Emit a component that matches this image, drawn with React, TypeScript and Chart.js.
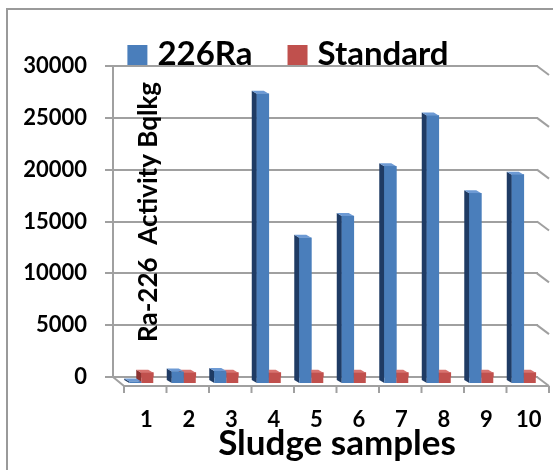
import React, { useEffect, useRef } from 'react';
import { Chart, registerables } from 'chart.js';

Chart.register(...registerables);

// ---- data ----
const samples = [1, 2, 3, 4, 5, 6, 7, 8, 9, 10];
const ra226 = [150, 1100, 1150, 27900, 14000, 16100, 20900, 25800, 18300, 20100];
const standard = [1000, 1000, 1000, 1000, 1000, 1000, 1000, 1000, 1000, 1000];
const yTicks = [0, 5000, 10000, 15000, 20000, 25000, 30000];
const seriesNames = ['226Ra', 'Standard'];
const xTitle = 'Sludge samples';
const yTitle = 'Ra-226  Activity Bqlkg';

// ---- styles ----
const FONT = 'Lato, "Open Sans", sans-serif';
const GRID = '#a0a0a0';
const BLUE = { front: '#4a7ebb', side: '#1f3b64', top: '#6d9ad4' };
const RED = { front: '#c0504d', side: '#8b3331', top: '#d8736f' };
const DX = 5;
const DY = 3;

const deco3d = {
  id: 'deco3d',
  beforeDraw(chart: any) {
    const ctx = chart.ctx;
    ctx.save();
    ctx.strokeStyle = '#9a9a9a';
    ctx.lineWidth = 2;
    ctx.beginPath();
    ctx.moveTo(7, 470);
    ctx.lineTo(7, 9);
    ctx.lineTo(553, 9);
    ctx.stroke();
    ctx.restore();
  },
  beforeDatasetsDraw(chart: any) {
    const { ctx, chartArea } = chart;
    const y = chart.scales.y;
    const { left, right, bottom } = chartArea;
    ctx.save();
    ctx.strokeStyle = GRID;
    ctx.lineWidth = 2;
    yTicks.forEach((v) => {
      const py = y.getPixelForValue(v);
      ctx.beginPath();
      ctx.moveTo(right - 1, py);
      ctx.lineTo(right + 11, py + 9);
      ctx.stroke();
    });
    ctx.beginPath();
    ctx.moveTo(left, bottom);
    ctx.lineTo(left + 11, bottom + 9);
    ctx.lineTo(right + 11, bottom + 9);
    ctx.stroke();
    const step = (right - left) / samples.length;
    for (let k = 0; k <= samples.length; k++) {
      const px = left + 11 + k * step;
      ctx.beginPath();
      ctx.moveTo(px, bottom + 9);
      ctx.lineTo(px, bottom + 16);
      ctx.stroke();
    }
    ctx.restore();
  },
  afterDatasetsDraw(chart: any) {
    const ctx = chart.ctx;
    const yb = chart.scales.yb;
    const base = yb.getPixelForValue(0);
    const cols = [BLUE, RED];
    ctx.save();
    samples.forEach((_, i) => {
      [1, 0].forEach((d) => {
        const el = chart.getDatasetMeta(d).data[i];
        if (!el) return;
        const { x, y, width } = el.getProps(['x', 'y', 'width'], true);
        const L = x - width / 2;
        const R = x + width / 2;
        const c = cols[d];
        ctx.fillStyle = c.side;
        ctx.beginPath();
        ctx.moveTo(L, y);
        ctx.lineTo(L - DX, y - DY);
        ctx.lineTo(L - DX, base - DY);
        ctx.lineTo(L, base);
        ctx.closePath();
        ctx.fill();
        ctx.fillStyle = c.top;
        ctx.beginPath();
        ctx.moveTo(L, y);
        ctx.lineTo(R, y);
        ctx.lineTo(R - DX, y - DY);
        ctx.lineTo(L - DX, y - DY);
        ctx.closePath();
        ctx.fill();
        ctx.fillStyle = c.front;
        ctx.fillRect(L, y, R - L, base - y);
      });
    });
    ctx.restore();
  },
  afterDraw(chart: any) {
    const ctx = chart.ctx;
    ctx.save();
    ctx.font = `bold 33px ${FONT}`;
    ctx.textBaseline = 'alphabetic';
    ctx.textAlign = 'left';
    const colors = [BLUE.front, RED.front];
    const widths = seriesNames.map((s) => ctx.measureText(s).width);
    const total = 20 + 10 + widths[0] + 35 + 20 + 10 + widths[1];
    let lx = 288 - total / 2;
    seriesNames.forEach((s, i) => {
      ctx.fillStyle = colors[i];
      ctx.fillRect(lx, 45, 20, 20);
      ctx.fillStyle = '#000';
      ctx.fillText(s, lx + 30, 65);
      lx += 30 + widths[i] + 35;
    });
    ctx.textAlign = 'center';
    ctx.font = `bold 35px ${FONT}`;
    ctx.fillText(xTitle, 337, 455);
    ctx.font = `bold 26px ${FONT}`;
    ctx.translate(157, 212);
    ctx.rotate(-Math.PI / 2);
    ctx.fillText(yTitle, 0, 0);
    ctx.restore();
  },
};

export default function App() {
  const ref = useRef<HTMLCanvasElement | null>(null);

  useEffect(() => {
    let chart: Chart | null = null;
    let cancelled = false;
    const make = () => {
      if (cancelled || !ref.current) return;
      chart = new Chart(ref.current, {
        type: 'bar',
        data: {
          datasets: [
            {
              label: seriesNames[0],
              data: samples.map((s, i) => ({ x: s, y: ra226[i] })),
              backgroundColor: BLUE.front,
              yAxisID: 'yb',
              xAxisID: 'x',
              barThickness: 12,
              base: 0,
            } as any,
            {
              label: seriesNames[1],
              data: samples.map((s, i) => ({ x: s, y: standard[i] })),
              backgroundColor: RED.front,
              yAxisID: 'yb',
              xAxisID: 'x',
              barThickness: 12,
              base: 0,
            } as any,
          ],
        },
        options: {
          animation: false,
          responsive: false,
          devicePixelRatio: 1,
          layout: { padding: { top: 66, right: 15, left: 0, bottom: 0 } },
          plugins: { legend: { display: false }, tooltip: { enabled: false } },
          scales: {
            x: {
              type: 'linear',
              offset: false,
              min: 0.335,
              max: 10.335,
              grid: { display: false, drawTicks: false, offset: false },
              border: { display: false },
              afterBuildTicks: (axis: any) => {
                axis.ticks = samples.map((v) => ({ value: v }));
              },
              afterFit: (s: any) => {
                s.height = 93;
                s.paddingLeft = 0;
                s.paddingRight = 0;
              },
              ticks: {
                font: { family: FONT, size: 22, weight: 'bold' },
                color: '#000',
                padding: 30,
                labelOffset: 5,
                autoSkip: false,
                maxRotation: 0,
                callback: (v: any) => String(v),
              },
            },
            y: {
              type: 'linear',
              position: 'left',
              min: 0,
              max: 30000,
              afterBuildTicks: (axis: any) => {
                axis.ticks = yTicks.map((v) => ({ value: v }));
              },
              afterFit: (s: any) => {
                s.width = 113;
              },
              grid: { color: GRID, lineWidth: 2, tickLength: 8 },
              border: { color: GRID, width: 2 },
              ticks: {
                font: { family: FONT, size: 22, weight: 'bold' },
                color: '#000',
                padding: 18,
                callback: (v: any) => String(v),
              },
            },
            yb: {
              type: 'linear',
              display: false,
              min: 579,
              max: 30579,
            },
          } as any,
        },
        plugins: [deco3d],
      });
    };
    const fonts: any = (document as any).fonts;
    if (fonts && fonts.load) {
      Promise.all([
        fonts.load(`bold 32px Lato`),
        fonts.load(`bold 22px Lato`),
      ]).then(make, make);
    } else {
      make();
    }
    return () => {
      cancelled = true;
      if (chart) chart.destroy();
    };
  }, []);

  return (
    <div style={{ position: 'fixed', left: 0, top: 0, width: 553, height: 470, background: '#fff' }}>
      <canvas ref={ref} width={553} height={470} style={{ display: 'block' }} />
    </div>
  );
}
